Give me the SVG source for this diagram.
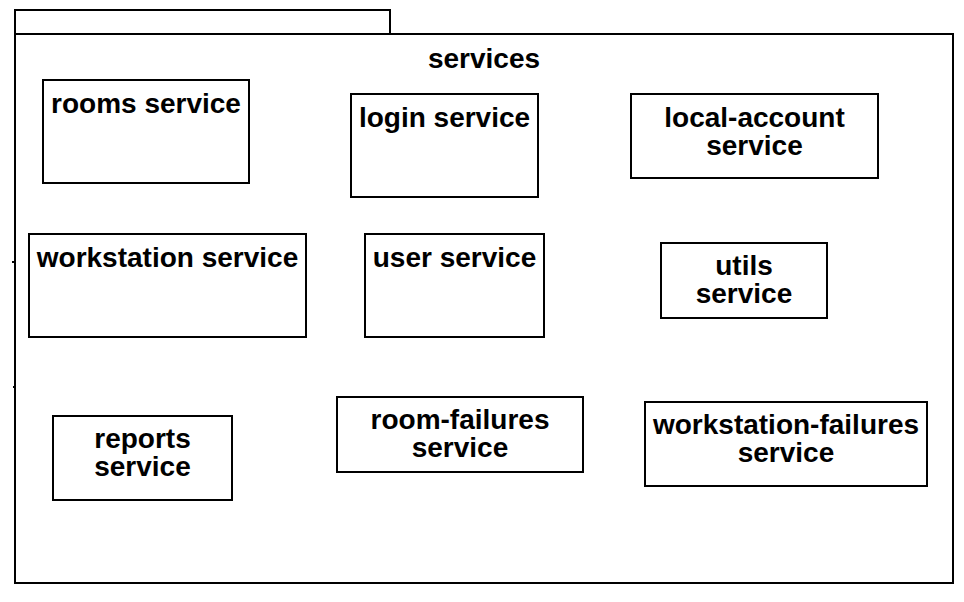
<svg xmlns="http://www.w3.org/2000/svg" width="964" height="602" viewBox="0 0 964 602">
<style>
.b{fill:#fff;stroke:#000;stroke-width:2}
.t{font-family:"Liberation Sans",Arial,sans-serif;font-weight:bold;font-size:28px;fill:#000;text-anchor:middle}
.c{stroke:#000;stroke-width:2;fill:none}
</style>
<rect width="964" height="602" fill="#fff"/>
<g id="package-services">
<rect class="b" x="15" y="10" width="375" height="24"/>
<rect class="b" x="15" y="34" width="938" height="549"/>
<text class="t" x="484" y="68">services</text>
</g>
<g id="connectors">
<line class="c" x1="12" y1="262" x2="15" y2="262"/>
<line class="c" x1="13" y1="387" x2="15" y2="387"/>
</g>
<g id="rooms-service">
<rect class="b" x="43" y="80" width="206" height="103"/>
<text class="t" x="146" y="113">rooms service</text>
</g>
<g id="login-service">
<rect class="b" x="351" y="94" width="187" height="103"/>
<text class="t" x="444.5" y="127">login service</text>
</g>
<g id="local-account-service">
<rect class="b" x="631" y="94" width="247" height="84"/>
<text class="t" x="754.5" y="127">local-account</text>
<text class="t" x="754.5" y="155">service</text>
</g>
<g id="workstation-service">
<rect class="b" x="29" y="234" width="277" height="103"/>
<text class="t" x="167.5" y="267">workstation service</text>
</g>
<g id="user-service">
<rect class="b" x="365" y="234" width="179" height="103"/>
<text class="t" x="454.5" y="267">user service</text>
</g>
<g id="utils-service">
<rect class="b" x="661" y="243" width="166" height="75"/>
<text class="t" x="744" y="275">utils</text>
<text class="t" x="744" y="303">service</text>
</g>
<g id="reports-service">
<rect class="b" x="53" y="416" width="179" height="84"/>
<text class="t" x="142.5" y="448">reports</text>
<text class="t" x="142.5" y="476">service</text>
</g>
<g id="room-failures-service">
<rect class="b" x="337" y="397" width="246" height="75"/>
<text class="t" x="460" y="429">room-failures</text>
<text class="t" x="460" y="457">service</text>
</g>
<g id="workstation-failures-service">
<rect class="b" x="645" y="402" width="282" height="84"/>
<text class="t" x="786" y="434">workstation-failures</text>
<text class="t" x="786" y="462">service</text>
</g>
</svg>
